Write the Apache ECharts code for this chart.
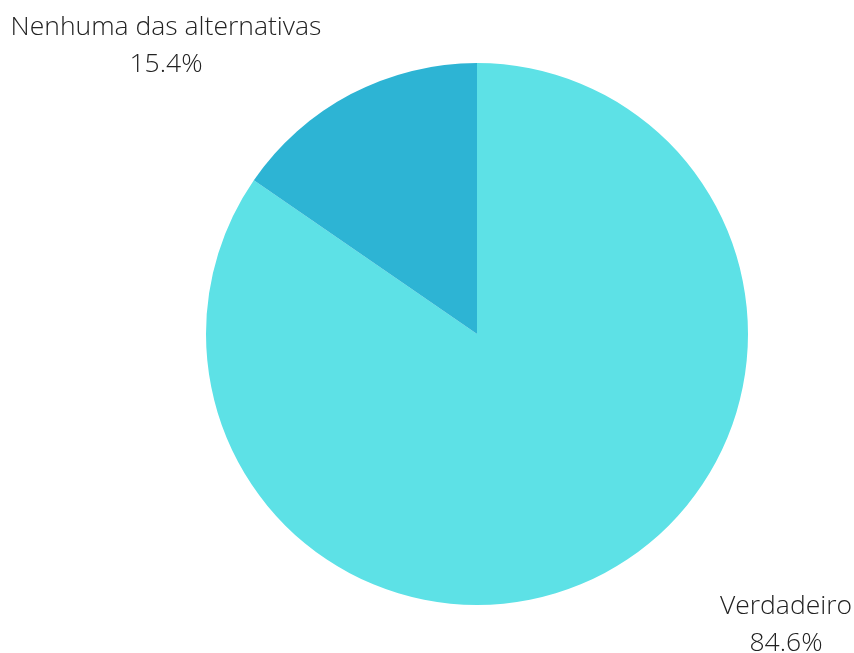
<!DOCTYPE html>
<html>
<head>
<meta charset="utf-8">
<script src="https://cdn.jsdelivr.net/npm/echarts@6/dist/echarts.min.js"></script>
<style>
html,body{margin:0;padding:0;background:#fff;}
#chart{width:854px;height:653px;}
</style>
</head>
<body>
<div id="chart"></div>
<script>
// Answers and their shares (%)
const categories = ['Verdadeiro', 'Nenhuma das alternativas'];
const values = [84.6, 15.4];
const colors = ['#5DE1E6', '#2DB4D4'];

// Where each label sits (text centre)
const labelSpots = [
  { x: 786, y: 625 },
  { x: 166, y: 46 }
];

const chart = echarts.init(document.getElementById('chart'));
chart.setOption({
  animation: false,
  series: [{
    type: 'pie',
    center: [477, 334],
    radius: [0, 271],
    startAngle: 90,
    clockwise: true,
    percentPrecision: 1,
    data: categories.map((name, i) => ({
      name,
      value: values[i],
      itemStyle: { color: colors[i] }
    })),
    label: {
      show: true,
      position: 'outside',
      formatter: '{b}\n{d}%',
      fontFamily: 'Open Sans',
      fontWeight: 300,
      fontSize: 26.5,
      lineHeight: 37,
      color: '#222',
      align: 'center',
      overflow: 'none',
      width: 400
    },
    labelLine: { show: false },
    labelLayout: function (params) {
      const p = labelSpots[params.dataIndex];
      return { x: p.x, y: p.y, align: 'center', verticalAlign: 'middle' };
    },
    emphasis: { disabled: true }
  }]
});
</script>
</body>
</html>
